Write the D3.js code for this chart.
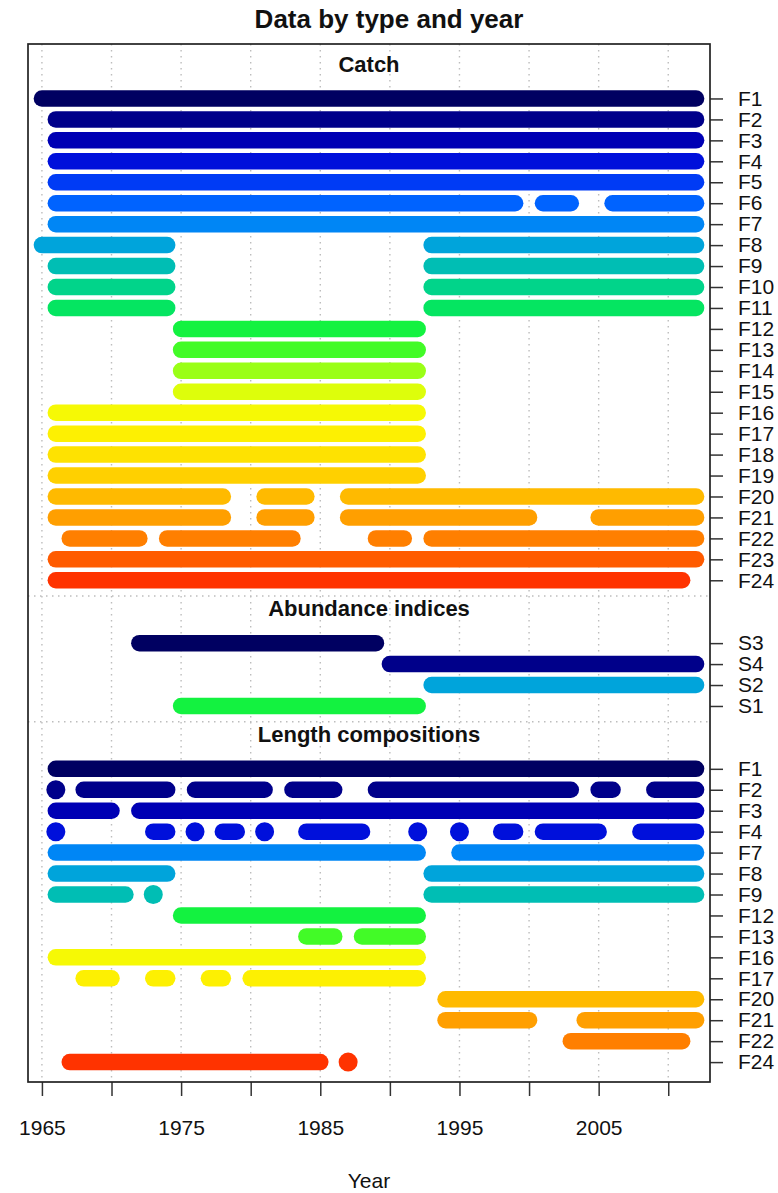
<!DOCTYPE html>
<html>
<head>
<meta charset="utf-8">
<script src="https://cdn.jsdelivr.net/npm/d3@7"></script>
<style>
  body { margin: 0; background: #fff; }
  text { font-family: "Liberation Sans", Arial, sans-serif; fill: #111; }
</style>
</head>
<body>
<div id="chart"></div>
<script>
// years with data, as [first, last] runs, one list per row
var catchFleets = ["F1","F2","F3","F4","F5","F6","F7","F8","F9","F10","F11","F12",
                   "F13","F14","F15","F16","F17","F18","F19","F20","F21","F22","F23","F24"];
var catchRuns = [
  [[1965,2012]],
  [[1966,2012]],
  [[1966,2012]],
  [[1966,2012]],
  [[1966,2012]],
  [[1966,1999],[2001,2003],[2006,2012]],
  [[1966,2012]],
  [[1965,1974],[1993,2012]],
  [[1966,1974],[1993,2012]],
  [[1966,1974],[1993,2012]],
  [[1966,1974],[1993,2012]],
  [[1975,1992]],
  [[1975,1992]],
  [[1975,1992]],
  [[1975,1992]],
  [[1966,1992]],
  [[1966,1992]],
  [[1966,1992]],
  [[1966,1992]],
  [[1966,1978],[1981,1984],[1987,2012]],
  [[1966,1978],[1981,1984],[1987,2000],[2005,2012]],
  [[1967,1972],[1974,1983],[1989,1991],[1993,2012]],
  [[1966,2012]],
  [[1966,2011]]
];

var indexFleets = ["S3","S4","S2","S1"];
var indexRuns = [
  [[1972,1989]],
  [[1990,2012]],
  [[1993,2012]],
  [[1975,1992]]
];

var lengthFleets = ["F1","F2","F3","F4","F7","F8","F9","F12","F13","F16","F17","F20","F21","F22","F24"];
var lengthRuns = [
  [[1966,2012]],
  [[1966,1966],[1968,1974],[1976,1981],[1983,1986],[1989,2003],[2005,2006],[2009,2012]],
  [[1966,1970],[1972,2012]],
  [[1966,1966],[1973,1974],[1976,1976],[1978,1979],[1981,1981],[1984,1988],[1992,1992],
   [1995,1995],[1998,1999],[2001,2005],[2008,2012]],
  [[1966,1992],[1995,2012]],
  [[1966,1974],[1993,2012]],
  [[1966,1971],[1973,1973],[1993,2012]],
  [[1975,1992]],
  [[1984,1986],[1988,1992]],
  [[1966,1992]],
  [[1968,1970],[1973,1974],[1977,1978],[1980,1992]],
  [[1994,2012]],
  [[1994,2000],[2004,2012]],
  [[2003,2011]],
  [[1967,1985],[1987,1987]]
];

var fleetColors = ["#000061","#00008A","#0000B4","#0010DB","#003BF5","#0063FF","#0086F5","#00A4DB",
                   "#00BEB4","#01D48A","#05E561","#13F240","#42FB27","#9AFF16","#DDFE0B","#F6F905",
                   "#FDF002","#FEE201","#FFD000","#FFBA00","#FF9F00","#FF7F00","#FF5B00","#FF3300"];
var surveyColors = {S3: "#000061", S4: "#00008A", S2: "#00A4DB", S1: "#13F240"};

var yearTicks = [1965,1970,1975,1980,1985,1990,1995,2000,2005,2010];
var yearLabels = [1965,1975,1985,1995,2005];

var groups = [
  {title: "Catch", fleets: catchFleets, runs: catchRuns},
  {title: "Abundance indices", fleets: indexFleets, runs: indexRuns},
  {title: "Length compositions", fleets: lengthFleets, runs: lengthRuns}
];

function colorOf(name) {
  if (surveyColors[name]) return surveyColors[name];
  return fleetColors[+name.slice(1) - 1];
}

var W = 778, H = 1193;
var plotL = 28, plotR = 710, plotT = 44, plotB = 1082;
var barH = 16.5, dotR = 9.5;

var svg = d3.select("#chart").append("svg")
    .attr("width", W)
    .attr("height", H);

var x = d3.scaleLinear().domain([1964, 2013]).range([plotL, plotR]);

// row positions: each group separated by 3 row units
var rows = [];
var start = 0;
groups.forEach(function(g) {
  g.start = start;
  g.fleets.forEach(function(f, i) {
    rows.push({pos: start + i, name: f, runs: g.runs[i]});
  });
  start = start + g.fleets.length + 2;
});
var y = d3.scaleLinear().domain([-2.6, 46.95]).range([plotT, plotB]);

// grid
svg.append("g").selectAll("line")
    .data(yearTicks)
  .enter().append("line")
    .attr("x1", function(d) { return x(d); })
    .attr("x2", function(d) { return x(d); })
    .attr("y1", plotT)
    .attr("y2", plotB)
    .attr("stroke", "#bdbdbd")
    .attr("stroke-width", 1.4)
    .attr("stroke-dasharray", "1.5,4.5");

svg.append("g").selectAll("line")
    .data(groups.slice(0, groups.length - 1))
  .enter().append("line")
    .attr("x1", plotL)
    .attr("x2", plotR)
    .attr("y1", function(g) { return y(g.start + g.fleets.length - 1 + 0.75); })
    .attr("y2", function(g) { return y(g.start + g.fleets.length - 1 + 0.75); })
    .attr("stroke", "#bdbdbd")
    .attr("stroke-width", 1.4)
    .attr("stroke-dasharray", "1.5,4.5");

// group headings
svg.append("g").selectAll("text")
    .data(groups)
  .enter().append("text")
    .attr("x", (plotL + plotR) / 2)
    .attr("y", function(g) { return y(g.start - 1.65); })
    .attr("dy", "0.35em")
    .attr("text-anchor", "middle")
    .style("font-size", "22px")
    .style("font-weight", "bold")
    .text(function(g) { return g.title; });

// bars
var rowG = svg.append("g").selectAll("g")
    .data(rows)
  .enter().append("g");

rowG.selectAll("rect")
    .data(function(r) {
      return r.runs.filter(function(s) { return s[1] > s[0]; })
        .map(function(s) { return {s: s, r: r}; });
    })
  .enter().append("rect")
    .attr("x", function(d) { return x(d.s[0]) - barH / 2; })
    .attr("width", function(d) { return x(d.s[1]) - x(d.s[0]) + barH; })
    .attr("y", function(d) { return y(d.r.pos) - barH / 2; })
    .attr("height", barH)
    .attr("rx", barH / 2)
    .attr("fill", function(d) { return colorOf(d.r.name); });

rowG.selectAll("circle")
    .data(function(r) {
      return r.runs.filter(function(s) { return s[1] == s[0]; })
        .map(function(s) { return {s: s, r: r}; });
    })
  .enter().append("circle")
    .attr("cx", function(d) { return x(d.s[0]); })
    .attr("cy", function(d) { return y(d.r.pos); })
    .attr("r", dotR)
    .attr("fill", function(d) { return colorOf(d.r.name); });

// axes
var xAxis = svg.append("g")
    .attr("transform", "translate(0," + plotB + ")")
    .call(d3.axisBottom(x)
      .tickValues(yearTicks)
      .tickSize(14)
      .tickPadding(24)
      .tickFormat(function(d) { return yearLabels.indexOf(d) >= 0 ? d : ""; }));

var labelOf = {};
rows.forEach(function(r) { labelOf[r.pos] = r.name; });
var yAxis = svg.append("g")
    .attr("transform", "translate(" + plotR + ",0)")
    .call(d3.axisRight(y)
      .tickValues(rows.map(function(r) { return r.pos; }))
      .tickSize(13)
      .tickPadding(15)
      .tickFormat(function(d) { return labelOf[d]; }));

[xAxis, yAxis].forEach(function(a) {
  a.select(".domain").remove();
  a.selectAll(".tick line").attr("stroke", "#333").attr("stroke-width", 1.5);
  a.selectAll(".tick text")
    .style("font-size", "21px")
    .style("font-family", "'Liberation Sans', Arial, sans-serif")
    .attr("fill", "#111");
});

// plot frame
svg.append("rect")
    .attr("x", plotL)
    .attr("y", plotT)
    .attr("width", plotR - plotL)
    .attr("height", plotB - plotT)
    .attr("fill", "none")
    .attr("stroke", "#222")
    .attr("stroke-width", 1.7);

// titles
svg.append("text")
    .attr("x", W / 2)
    .attr("y", 28)
    .attr("text-anchor", "middle")
    .style("font-size", "26px")
    .style("font-weight", "bold")
    .text("Data by type and year");

svg.append("text")
    .attr("x", (plotL + plotR) / 2)
    .attr("y", 1188)
    .attr("text-anchor", "middle")
    .style("font-size", "21px")
    .text("Year");
</script>
</body>
</html>
